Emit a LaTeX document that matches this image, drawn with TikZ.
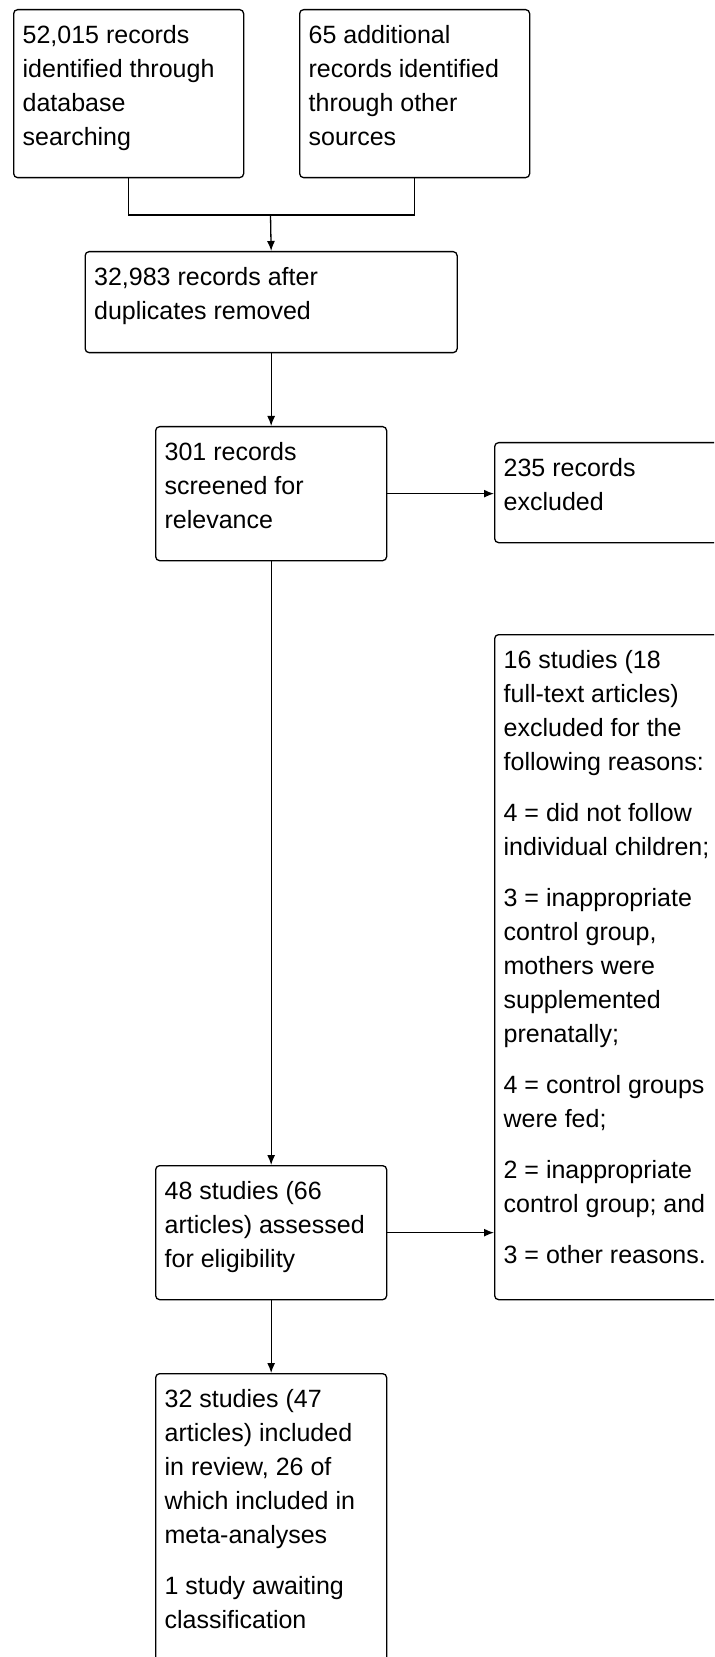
\documentclass[tikz,border=0pt]{standalone}
\usepackage{fontspec}
\setmainfont{Liberation Sans}
\usetikzlibrary{arrows.meta}
\newcommand{\boxtext}[3]{\parbox[t][#2][t]{#1}{\raggedright\fontsize{12.5pt}{17pt}\selectfont\rule{0pt}{17pt}#3}}
\tikzset{
        flowbox/.style={draw, rounded corners=2pt, anchor=north west, inner xsep=4.5pt, inner ysep=0pt, line width=0.65pt},
        flowarrow/.style={line width=0.65pt, -{Latex[length=5pt,width=4pt]}},
}
\begin{document}
\begin{tikzpicture}[x=0.5pt,y=-0.5pt]
        \useasboundingbox (0,0) rectangle (714,1657);
        \clip (0,0) rectangle (714,1657);

        \node[flowbox] (ident) at (13,9) {\boxtext{106pt}{84pt}{52,015 records\\identified through\\database\\searching}};
        \node[flowbox] (other) at (299,9) {\boxtext{106pt}{84pt}{65 additional\\records identified\\through other\\sources}};
        \node[flowbox] (dedup) at (84.5,251) {\boxtext{177pt}{50.5pt}{32,983 records after\\duplicates removed}};
        \node[flowbox] (screen) at (155,426) {\boxtext{106.5pt}{67pt}{301 records\\screened for\\relevance}};
        \node[flowbox] (excl) at (494,442) {\boxtext{106pt}{50pt}{235 records\\excluded}};
        \node[flowbox] (ftexcl) at (494,634) {\boxtext{106pt}{332.5pt}{16 studies (18\\full-text articles)\\excluded for the\\following reasons:\\[8.5pt]
                4 = did not follow\\individual children;\\[8.5pt]
                3 = inappropriate\\control group,\\mothers were\\supplemented\\prenatally;\\[8.5pt]
                4 = control groups\\were fed;\\[8.5pt]
                2 = inappropriate\\control group; and\\[8.5pt]
                3 = other reasons.}};
        \node[flowbox] (elig) at (155,1165) {\boxtext{106.5pt}{67pt}{48 studies (66\\articles) assessed\\for eligibility}};
        \node[flowbox] (incl) at (155,1373) {\boxtext{106.5pt}{165pt}{32 studies (47\\articles) included\\in review, 26 of\\which included in\\meta-analyses\\[8.5pt]
                1 study awaiting\\classification}};

        \coordinate (join) at (270.5,215);
        \draw[line width=0.65pt] (ident.south) |- (join) -| (other.south);
        \draw[flowarrow] (join) -- (dedup.north);
        \draw[flowarrow] (dedup.south) -- (screen.north);
        \draw[flowarrow] (screen.east) -- (screen.east -| excl.west);
        \draw[flowarrow] (screen.south) -- (elig.north);
        \draw[flowarrow] (elig.east) -- (elig.east -| ftexcl.west);
        \draw[flowarrow] (elig.south) -- (incl.north);
\end{tikzpicture}
\end{document}
